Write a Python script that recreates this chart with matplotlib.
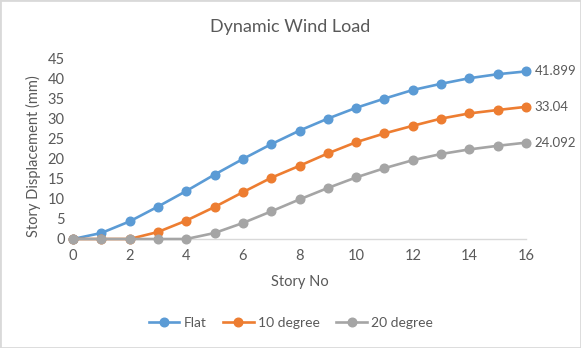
import matplotlib
matplotlib.use("Agg")
import matplotlib.pyplot as plt
from matplotlib.patches import Rectangle

stories = list(range(17))
flat = [0, 1.5, 4.4, 8.1, 12.0, 16.1, 20.0, 23.7, 27.1, 30.1, 32.8, 35.1, 37.25, 38.8, 40.2, 41.2, 41.899]
deg10 = [0, 0, 0, 1.75, 4.6, 8.0, 11.7, 15.3, 18.3, 21.4, 24.2, 26.4, 28.3, 30.1, 31.4, 32.25, 33.04]
deg20 = [0, 0, 0, 0, 0, 1.5, 4.0, 6.9, 9.9, 12.75, 15.4, 17.7, 19.7, 21.25, 22.4, 23.3, 24.092]
series = [("Flat", flat, "#5B9BD5"), ("10 degree", deg10, "#ED7D31"), ("20 degree", deg20, "#A5A5A5")]
end_labels = ["41.899", "33.04", "24.092"]

plt.rcParams["font.family"] = ["Lato", "DejaVu Sans"]
text_color = "#595959"

W, H = 581, 348
fig = plt.figure(figsize=(W / 100, H / 100), dpi=100)
ax = fig.add_axes([73 / W, 1 - 239 / H, (526 - 73) / W, (239 - 59) / H])

for (name, vals, color), lab in zip(series, end_labels):
    ax.plot(stories, vals, color=color, lw=1.9, marker="o", ms=6.2, label=name, clip_on=False, zorder=3)
    ax.annotate(lab, (stories[-1], vals[-1]), xytext=(6, 0), textcoords="offset points",
                va="center", ha="left", fontsize=9.5, color=text_color)

ax.set_xlim(0, 16)
ax.set_ylim(0, 45)
ax.set_xticks(range(0, 17, 2))
ax.set_yticks(range(0, 46, 5))
for side in ("left", "right", "top"):
    ax.spines[side].set_visible(False)
ax.spines["bottom"].set_color("#D9D9D9")
ax.spines["bottom"].set_linewidth(1)
ax.tick_params(length=0, labelsize=10.5, colors=text_color, pad=6)
ax.tick_params(axis="x", pad=7)

ax.set_xlabel("Story No", fontsize=10.5, color=text_color, va="center")
ax.xaxis.set_label_coords(0.5, (239 - 282) / 180)
ax.set_ylabel("Story Displacement (mm)", fontsize=10.5, color=text_color, va="center")
ax.yaxis.set_label_coords((33 - 73) / 453, (239 - 156) / 180)
fig.suptitle("Dynamic Wind Load", y=1 - 27 / H, va="center", fontsize=13, color=text_color)

ax.legend(loc="center", bbox_to_anchor=(291 / W, 1 - 323 / H), bbox_transform=fig.transFigure,
          ncol=3, frameon=False, fontsize=10, labelcolor=text_color, handlelength=2.2,
          columnspacing=1.2, handletextpad=0.3)

fig.patches.append(Rectangle((0, 0), 1, 1, transform=fig.transFigure, fill=False,
                             edgecolor="#D9D9D9", lw=2))
fig.savefig("out.png", dpi=100)
